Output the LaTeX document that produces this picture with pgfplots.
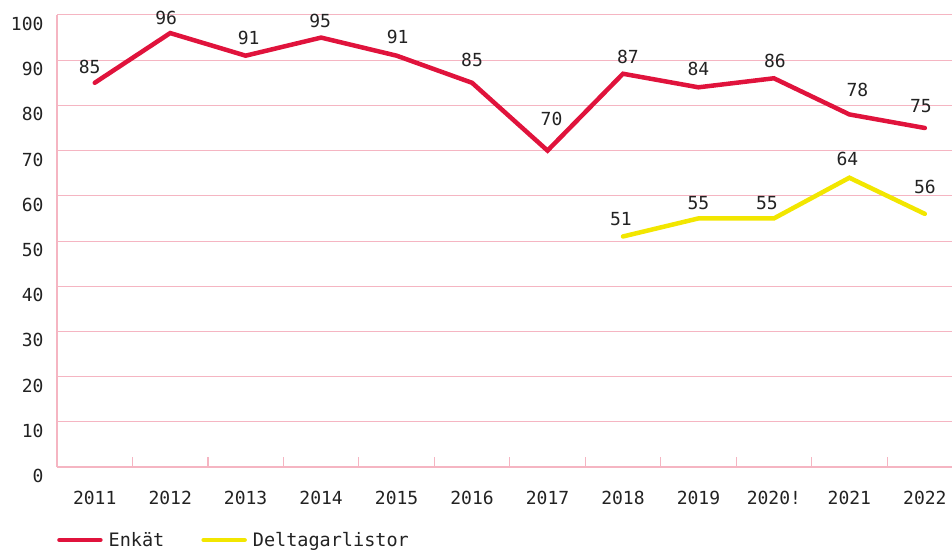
\documentclass[border=0pt]{standalone}
\usepackage{pgfplots}
\usepackage{pgfplotstable}
\pgfplotsset{compat=1.18}
\usepackage{fontspec}
\setmainfont{DejaVu Sans Mono}
\definecolor{cred}{HTML}{E0133C}
\definecolor{cyel}{HTML}{F2E600}
\definecolor{cgrid}{HTML}{F5B5C2}
\definecolor{ctext}{HTML}{222222}
\pgfplotstableread{
x y dx dy
0 85 -5 16
1 96 -4 15
2 91 3 18
3 95 -1 17
4 91 1 19
5 85 0 23
6 70 4 32
7 87 5 17
8 84 0 18
9 86 1 17
10 78 8 24
11 75 -4 22
}\enkat
\pgfplotstableread{
x y dx dy
7 51 -2 17
8 55 0 15
9 55 -7 15
10 64 -2 19
11 56 0 27
}\deltagar
\begin{document}
\begin{tikzpicture}[x=1pt,y=1pt]
\path[use as bounding box] (0,0) rectangle (952,549);
\begin{axis}[
  at={(57pt,82pt)}, anchor=south west,
  scale only axis, width=895pt, height=452pt,
  xmin=-0.5, xmax=11.36, ymin=0, ymax=100,
  /pgf/number format/assume math mode=true,
  axis x line*=bottom, axis y line*=left,
  axis line style={cgrid, line width=1.2pt, -},
  xtick={0,...,11},
  xticklabels={2011,2012,2013,2014,2015,2016,2017,2018,2019,2020!,2021,2022},
  minor xtick={0.5,1.5,...,10.5},
  major tick length=0pt, minor tick length=10pt, tick align=inside,
  minor tick style={cgrid, line width=1.2pt},
  ytick={0,10,...,100},
  ymajorgrids, grid style={cgrid, line width=1pt},
  tick label style={font=\fontsize{18}{20}\selectfont, text=ctext},
  yticklabel style={xshift=-10pt, yshift=-9pt},
  xticklabel style={yshift=-21pt},
  legend columns=2,
  legend style={at={(0,-0.1615)}, anchor=west, draw=none, fill=none,
    inner sep=0pt, font=\fontsize{18.5}{20}\selectfont, text=ctext,
    /tikz/every odd column/.append style={column sep=4pt},
    /tikz/every even column/.append style={column sep=35pt}},
  legend image code/.code={\draw[#1, line cap=round] (0pt,0pt) -- (41pt,0pt);},
  nodes near coords,
  visualization depends on={\thisrow{dx} \as \dx},
  visualization depends on={\thisrow{dy} \as \dy},
  every node near coord/.append style={anchor=center, xshift=\dx pt, yshift=\dy pt,
    font=\fontsize{18}{20}\selectfont, text=ctext},
]
\addplot[cred, line width=4.5pt, line cap=round] table[x=x,y=y] {\enkat};
\addlegendentry{Enkät}
\addplot[cyel, line width=4.5pt, line cap=round] table[x=x,y=y] {\deltagar};
\addlegendentry{Deltagarlistor}
\end{axis}
\end{tikzpicture}
\end{document}
